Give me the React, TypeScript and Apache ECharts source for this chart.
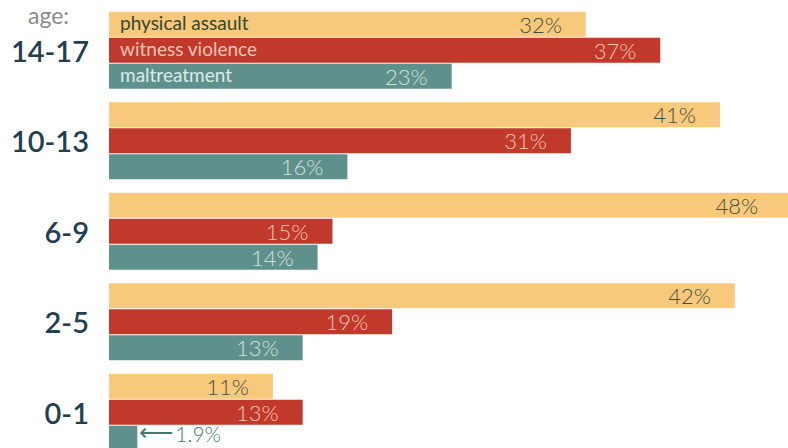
import React, { useEffect, useRef } from "react";
import * as echarts from "echarts";

const categories = ["14-17", "10-13", "6-9", "2-5", "0-1"];
const seriesNames = ["physical assault", "witness violence", "maltreatment"];
const physicalAssault = [32, 41, 48, 42, 11];
const witnessViolence = [37, 31, 15, 19, 13];
const maltreatment = [23, 16, 14, 13, 1.9];

const barColors = ["#f8c87b", "#c0392a", "#5f918c"];
const labelColors = ["#3d5242", "#f6c7b8", "#cfe2de"];
const legendColors = ["#34472f", "#f4c3b6", "#dcebe7"];
const FONT = 'Lato, "DejaVu Sans", sans-serif';

export default function App() {
  const ref = useRef<HTMLDivElement>(null);
  useEffect(() => {
    if (!ref.current) return;
    const chart = echarts.init(ref.current, null, { renderer: "svg" });
    const allValues = [physicalAssault, witnessViolence, maltreatment];
    const series = allValues.map((vals, si) => ({
      type: "bar",
      name: seriesNames[si],
      barGap: "4%",
      barCategoryGap: "15%",
      itemStyle: { color: barColors[si] },
      label: {
        show: true,
        position: "insideRight",
        distance: 24,
        formatter: "{c}%",
        color: labelColors[si],
        fontFamily: FONT,
        fontSize: 22,
        fontWeight: 300,
      },
      data: vals.map((v) => {
        if (v < 5) {
          return {
            value: v,
            label: {
              position: "right",
              distance: 2,
              offset: [0, -5],
              formatter: "{a|\u27F5}{b|{c}%}",
              rich: {
                a: { fontFamily: '"DejaVu Sans"', fontSize: 24, color: "#3f7b73" },
                b: { fontFamily: FONT, fontSize: 21, color: "#3f7b73", padding: [0, 0, 0, 2] },
              },
            },
          };
        }
        if (v >= 45) {
          return { value: v, label: { distance: 66 } };
        }
        return v;
      }),
    }));
    chart.setOption({
      animation: false,
      backgroundColor: "#ffffff",
      grid: { left: 109, right: 16, top: 5, height: 452.5, outerBoundsMode: "none" },
      xAxis: { type: "value", min: 0, max: 50, show: false },
      yAxis: {
        type: "category",
        data: categories,
        inverse: true,
        axisLine: { show: false },
        axisTick: { show: false },
        splitLine: { show: false },
        axisLabel: {
          margin: 20,
          fontFamily: FONT,
          fontSize: 29,
          fontWeight: 600,
          color: "#1f4050",
        },
      },
      graphic: [
        {
          type: "text",
          left: 28,
          top: 3,
          z: 100,
          style: { text: "age:", fontFamily: FONT, fontSize: 23, fill: "#8a8a8a" },
        },
        ...seriesNames.map((n, i) => ({
          type: "text",
          left: 120,
          top: 13 + i * 26,
          z: 100,
          style: { text: n, fontFamily: FONT, fontSize: 19, fill: legendColors[i] },
        })),
      ],
      series,
    });
    return () => chart.dispose();
  }, []);
  return (
    <div
      style={{
        position: "fixed",
        left: 0,
        top: 0,
        width: 788,
        height: 448,
        overflow: "hidden",
        background: "#fff",
      }}
    >
      <div ref={ref} style={{ width: 870, height: 470 }} />
    </div>
  );
}
